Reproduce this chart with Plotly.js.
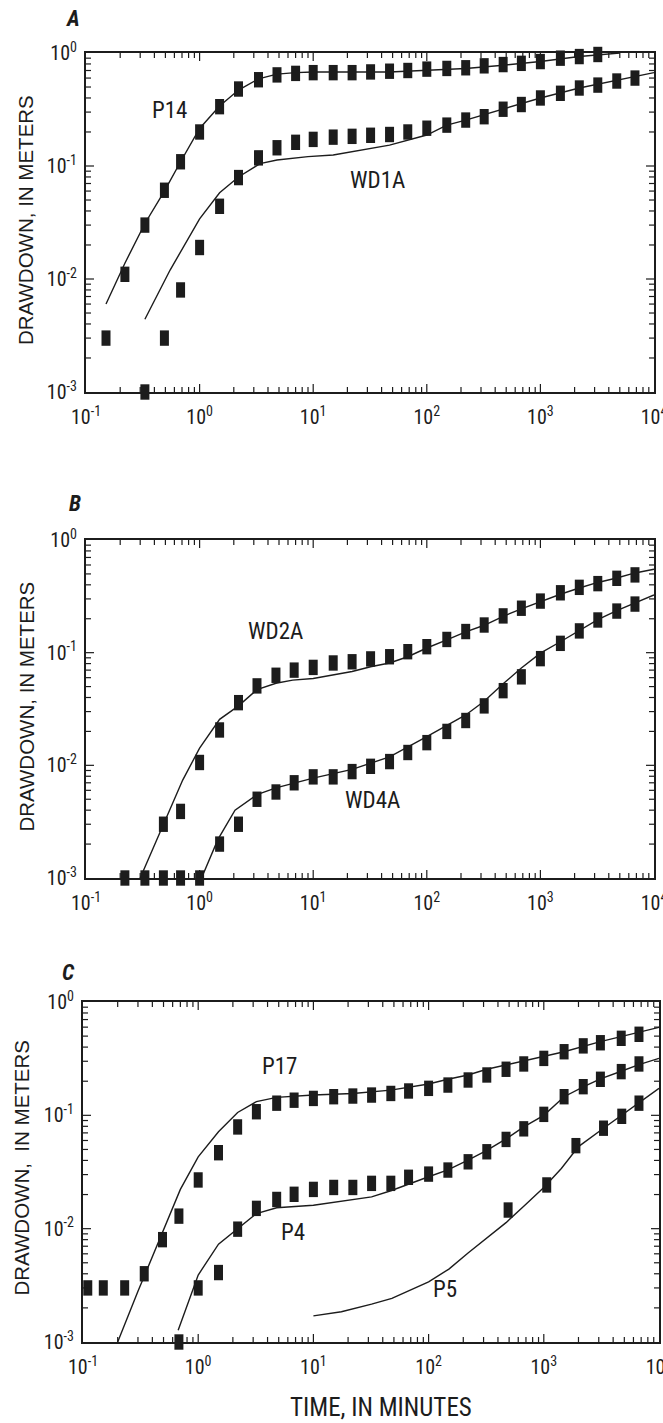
<!DOCTYPE html>
<html>
<head>
<meta charset="utf-8">
<script src="https://cdn.plot.ly/plotly-3.0.1.min.js"></script>
<style>html,body{margin:0;padding:0;background:#fff;}#chart{width:663px;height:1423px;}</style>
</head>
<body>
<div id="chart"></div>
<script>
// ---------- DATA ----------
// Panel A
const a_p14_t = [0.15, 0.22, 0.33, 0.49, 0.68, 1.0, 1.5, 2.2, 3.3, 4.8, 7.0, 10, 15, 22, 32, 47, 68, 100, 150, 220, 320, 470, 680, 1000, 1500, 2200, 3200, 4700];
const a_p14_s = [0.003, 0.011, 0.030, 0.061, 0.109, 0.20, 0.335, 0.48, 0.58, 0.64, 0.66, 0.67, 0.67, 0.67, 0.68, 0.69, 0.70, 0.72, 0.73, 0.74, 0.77, 0.79, 0.81, 0.84, 0.90, 0.93, 0.97, 1.01];
const a_wd1a_t = [0.33, 0.49, 0.68, 1.0, 1.5, 2.2, 3.3, 4.8, 7.0, 10, 15, 22, 32, 47, 68, 100, 150, 220, 320, 470, 680, 1000, 1500, 2200, 3200, 4700, 6800];
const a_wd1a_s = [0.001, 0.003, 0.008, 0.019, 0.044, 0.079, 0.118, 0.145, 0.162, 0.172, 0.18, 0.183, 0.187, 0.19, 0.20, 0.216, 0.23, 0.255, 0.273, 0.318, 0.35, 0.40, 0.44, 0.49, 0.52, 0.565, 0.60];
const a_p14_fit_t = [0.15, 0.22, 0.33, 0.49, 0.68, 1.0, 1.5, 2.2, 3.3, 4.8, 7.0, 10, 47, 100, 220, 470, 1000, 2200, 5000];
const a_p14_fit_s = [0.006, 0.0138, 0.031, 0.06, 0.109, 0.215, 0.34, 0.47, 0.59, 0.65, 0.67, 0.68, 0.68, 0.70, 0.73, 0.78, 0.84, 0.93, 1.0];
const a_wd1a_fit_t = [0.33, 0.55, 1.0, 1.5, 2.2, 3.4, 4.8, 9, 15, 47, 100, 150, 220, 470, 1000, 2200, 4700, 10000];
const a_wd1a_fit_s = [0.0044, 0.012, 0.034, 0.058, 0.08, 0.105, 0.113, 0.121, 0.125, 0.153, 0.188, 0.23, 0.255, 0.32, 0.40, 0.49, 0.57, 0.67];

// Panel B
const b_wd2a_t = [0.22, 0.33, 0.48, 0.68, 1.0, 1.5, 2.2, 3.2, 4.7, 6.8, 10, 15, 22, 32, 47, 68, 100, 150, 220, 320, 470, 680, 1000, 1500, 2200, 3200, 4700, 6800];
const b_wd2a_s = [0.001, 0.001, 0.003, 0.0039, 0.0106, 0.0206, 0.036, 0.0507, 0.063, 0.070, 0.074, 0.081, 0.083, 0.088, 0.092, 0.102, 0.113, 0.131, 0.154, 0.176, 0.212, 0.248, 0.287, 0.34, 0.38, 0.41, 0.457, 0.49];
const b_wd4a_t = [0.48, 0.68, 1.0, 1.5, 2.2, 3.2, 4.7, 6.8, 10, 15, 22, 32, 47, 68, 100, 150, 220, 320, 470, 680, 1000, 1500, 2200, 3200, 4700, 6800];
const b_wd4a_s = [0.001, 0.001, 0.001, 0.0020, 0.0030, 0.0050, 0.0058, 0.0070, 0.0079, 0.0079, 0.0088, 0.0098, 0.0108, 0.013, 0.0159, 0.020, 0.025, 0.0337, 0.046, 0.061, 0.0885, 0.121, 0.156, 0.195, 0.234, 0.27];
const b_wd2a_fit_t = [0.30, 0.71, 1.0, 1.5, 2.2, 3.2, 4.7, 6.6, 10, 15, 22, 32, 47, 68, 100, 150, 220, 320, 470, 680, 1000, 1500, 2200, 3200, 4700, 6800, 10000];
const b_wd2a_fit_s = [0.001, 0.0074, 0.0142, 0.0256, 0.0337, 0.047, 0.0535, 0.057, 0.059, 0.063, 0.068, 0.075, 0.081, 0.092, 0.11, 0.13, 0.153, 0.175, 0.21, 0.245, 0.285, 0.33, 0.375, 0.42, 0.46, 0.51, 0.55];
const b_wd4a_fit_t = [1.04, 1.45, 2.05, 3.2, 4.7, 10, 22, 47, 100, 150, 220, 320, 470, 680, 1000, 1500, 2200, 3200, 4700, 6800, 10000];
const b_wd4a_fit_s = [0.001, 0.0022, 0.004, 0.0055, 0.0063, 0.0077, 0.0092, 0.0119, 0.018, 0.0224, 0.028, 0.037, 0.053, 0.073, 0.099, 0.125, 0.158, 0.196, 0.236, 0.275, 0.325];

// Panel C
const c_p17_t = [0.11, 0.15, 0.23, 0.34, 0.49, 0.68, 1.0, 1.5, 2.2, 3.2, 4.8, 6.8, 10, 15, 22, 32, 47, 67, 100, 147, 220, 320, 470, 670, 1000, 1500, 2200, 3100, 4700, 6700];
const c_p17_s = [0.003, 0.003, 0.003, 0.004, 0.008, 0.0129, 0.0269, 0.0468, 0.079, 0.1076, 0.128, 0.136, 0.141, 0.146, 0.148, 0.151, 0.156, 0.164, 0.173, 0.185, 0.205, 0.227, 0.255, 0.284, 0.318, 0.364, 0.41, 0.437, 0.478, 0.519];
const c_p4_t = [0.68, 1.0, 1.5, 2.2, 3.2, 4.8, 6.8, 10, 15, 22, 32, 47, 67, 100, 147, 220, 320, 470, 670, 1000, 1500, 2200, 3100, 4700, 6700];
const c_p4_s = [0.001, 0.003, 0.0041, 0.0099, 0.0151, 0.0181, 0.0201, 0.0222, 0.0231, 0.0231, 0.0251, 0.0251, 0.0284, 0.0303, 0.0329, 0.0389, 0.0477, 0.0613, 0.076, 0.102, 0.146, 0.179, 0.208, 0.243, 0.284];
const c_p5_t = [490, 1060, 1900, 3300, 4750, 6700];
const c_p5_s = [0.0146, 0.0243, 0.054, 0.077, 0.098, 0.128];
const c_p17_fit_t = [0.2, 0.3, 0.70, 1.0, 1.5, 2.2, 3.2, 4.8, 10, 22, 47, 100, 147, 220, 320, 470, 670, 1000, 1500, 3100, 10000];
const c_p17_fit_s = [0.001, 0.0028, 0.0222, 0.043, 0.0716, 0.106, 0.132, 0.144, 0.151, 0.156, 0.167, 0.189, 0.208, 0.227, 0.255, 0.278, 0.303, 0.334, 0.364, 0.447, 0.598];
const c_p4_fit_t = [0.67, 1.0, 1.5, 2.2, 3.2, 4.8, 10, 32, 47, 100, 147, 220, 320, 470, 670, 1000, 1500, 2200, 3100, 4700, 6700, 10000];
const c_p4_fit_s = [0.00127, 0.0039, 0.0073, 0.010, 0.0136, 0.0153, 0.0161, 0.0191, 0.0216, 0.0287, 0.033, 0.0403, 0.049, 0.062, 0.079, 0.10, 0.146, 0.178, 0.21, 0.245, 0.28, 0.318];
const c_p5_fit_t = [10, 17.5, 32, 48, 100, 150, 220, 320, 470, 670, 1000, 1420, 2000, 3300, 4750, 6700, 10000];
const c_p5_fit_s = [0.0017, 0.00185, 0.00216, 0.00243, 0.0034, 0.0044, 0.0061, 0.0082, 0.0113, 0.0158, 0.0231, 0.034, 0.053, 0.077, 0.10, 0.128, 0.173];

// Tick labels
const xTickVals = [0.1, 1, 10, 100, 1000, 10000];
const xTickText = ['10<sup>-1</sup>', '10<sup>0</sup>', '10<sup>1</sup>', '10<sup>2</sup>', '10<sup>3</sup>', '10<sup>4</sup>'];
const yTickVals = [0.001, 0.01, 0.1, 1];
const yTickText = ['10<sup>-3</sup>', '10<sup>-2</sup>', '10<sup>-1</sup>', '10<sup>0</sup>'];

// Labels
const seriesLabels = [
  {text: 'P14', t: 0.54, s: 0.31, ax: 'A'},
  {text: 'WD1A', t: 37, s: 0.075, ax: 'A'},
  {text: 'WD2A', t: 4.7, s: 0.153, ax: 'B'},
  {text: 'WD4A', t: 33, s: 0.0049, ax: 'B'},
  {text: 'P17', t: 5.1, s: 0.268, ax: 'C'},
  {text: 'P4', t: 6.6, s: 0.0092, ax: 'C'},
  {text: 'P5', t: 139, s: 0.0029, ax: 'C'}
];
const panelLetters = ['A', 'B', 'C'];
const yTitle = ['DRAWDOWN, IN METERS', 'DRAWDOWN, IN METERS', 'DRAWDOWN,  IN METERS'];
const xTitle = 'TIME, IN MINUTES';

// ---------- STYLE ----------
const W = 663, H = 1423;
const INK = '#1c1c1c';
const COND = '"Roboto Condensed", "DejaVu Sans Condensed", "Liberation Sans", sans-serif';
const REG = '"Liberation Sans", Arial, sans-serif';

function px(x) { return x / W; }
function py(y) { return 1 - y / H; }

// panel boxes in pixels: [left, right, top, bottom]
const boxes = {
  A: [86, 654, 53, 392],
  B: [86, 654, 540, 878],
  C: [83, 659, 1002, 1342]
};
const xRange = [-1, 4];
const yRange = [-3, 0];
const axKeys = {A: ['x', 'y'], B: ['x2', 'y2'], C: ['x3', 'y3']};

function minorVals(lo, hi) {
  const v = [];
  for (let k = lo; k < hi; k++) for (let m = 2; m <= 9; m++) v.push(m * Math.pow(10, k));
  return v;
}

function markers(t, s, p) {
  return {x: t, y: s, xaxis: axKeys[p][0], yaxis: axKeys[p][1], type: 'scatter', mode: 'markers',
    cliponaxis: false, hoverinfo: 'skip',
    marker: {symbol: 'line-ns', size: 11, color: INK, line: {width: 9, color: INK}}};
}
function fit(t, s, p) {
  return {x: t, y: s, xaxis: axKeys[p][0], yaxis: axKeys[p][1], type: 'scatter', mode: 'lines',
    cliponaxis: true, hoverinfo: 'skip', line: {color: INK, width: 1.4}};
}

// Inward tick marks on all four sides, drawn as a line trace through the axes' own scales.
// Tick lengths are given in pixels and converted to axis units from the panel size.
function tickTrace(p) {
  const b = boxes[p];
  const decX = (b[1] - b[0]) / (xRange[1] - xRange[0]);
  const decY = (b[3] - b[2]) / (yRange[1] - yRange[0]);
  const xs = [], ys = [];
  const xt = xTickVals.map(v => [v, 8]).concat(minorVals(-1, 4).map(v => [v, 5]));
  xt.forEach(([v, len]) => {
    const lv = Math.log10(v);
    if (lv <= xRange[0] + 1e-6 || lv >= xRange[1] - 1e-6) return;
    const d = len / decY;
    xs.push(v, v, null, v, v, null);
    ys.push(Math.pow(10, yRange[0]), Math.pow(10, yRange[0] + d), null, Math.pow(10, yRange[1]), Math.pow(10, yRange[1] - d), null);
  });
  const yt = yTickVals.map(v => [v, 8]).concat(minorVals(-3, 0).map(v => [v, 5]));
  yt.forEach(([v, len]) => {
    const lv = Math.log10(v);
    if (lv <= yRange[0] + 1e-6 || lv >= yRange[1] - 1e-6) return;
    const d = len / decX;
    xs.push(Math.pow(10, xRange[0]), Math.pow(10, xRange[0] + d), null, Math.pow(10, xRange[1]), Math.pow(10, xRange[1] - d), null);
    ys.push(v, v, null, v, v, null);
  });
  return {x: xs, y: ys, xaxis: axKeys[p][0], yaxis: axKeys[p][1], type: 'scatter', mode: 'lines',
    connectgaps: false, cliponaxis: false, hoverinfo: 'skip', line: {color: INK, width: 1.2}};
}

const traces = [
  fit(a_p14_fit_t, a_p14_fit_s, 'A'), fit(a_wd1a_fit_t, a_wd1a_fit_s, 'A'),
  markers(a_p14_t, a_p14_s, 'A'), markers(a_wd1a_t, a_wd1a_s, 'A'),
  fit(b_wd2a_fit_t, b_wd2a_fit_s, 'B'), fit(b_wd4a_fit_t, b_wd4a_fit_s, 'B'),
  markers(b_wd2a_t, b_wd2a_s, 'B'), markers(b_wd4a_t, b_wd4a_s, 'B'),
  fit(c_p17_fit_t, c_p17_fit_s, 'C'), fit(c_p4_fit_t, c_p4_fit_s, 'C'), fit(c_p5_fit_t, c_p5_fit_s, 'C'),
  markers(c_p17_t, c_p17_s, 'C'), markers(c_p4_t, c_p4_s, 'C'), markers(c_p5_t, c_p5_s, 'C'),
  tickTrace('A'), tickTrace('B'), tickTrace('C')
];

const common = {type: 'log', showline: true, linewidth: 2, linecolor: INK, mirror: true, zeroline: false,
  showgrid: false, ticks: '', fixedrange: true, ticklabeloverflow: 'allow'};

const layout = {
  width: W, height: H, margin: {l: 0, r: 0, t: 0, b: 0}, paper_bgcolor: '#fff', plot_bgcolor: '#fff',
  showlegend: false, annotations: []
};

panelLetters.forEach(p => {
  const b = boxes[p];
  const xk = axKeys[p][0], yk = axKeys[p][1];
  const xName = 'xaxis' + xk.slice(1), yName = 'yaxis' + yk.slice(1);
  layout[xName] = Object.assign({}, common, {
    domain: [px(b[0]), px(b[1])], range: xRange, anchor: yk, side: 'bottom',
    tickmode: 'array', tickvals: xTickVals, ticktext: xTickText, ticklabelstandoff: 6,
    tickfont: {family: COND, size: 20, color: INK}});
  layout[yName] = Object.assign({}, common, {
    domain: [py(b[3]), py(b[2])], range: yRange, anchor: xk, side: 'left',
    tickmode: 'array', tickvals: yTickVals, ticktext: yTickText, ticklabelstandoff: 3,
    tickfont: {family: COND, size: 20, color: INK}});
});

const annotations = layout.annotations;
seriesLabels.forEach(l => {
  annotations.push({text: l.text, x: Math.log10(l.t), y: Math.log10(l.s), xref: axKeys[l.ax][0], yref: axKeys[l.ax][1],
    showarrow: false, font: {family: COND, size: 23, color: INK}, xanchor: 'center', yanchor: 'middle'});
});
const letterPos = {A: [73, 18], B: [75, 504], C: [68, 972]};
panelLetters.forEach(p => {
  annotations.push({text: '<b><i>' + p + '</i></b>', x: px(letterPos[p][0]), y: py(letterPos[p][1]), xref: 'paper', yref: 'paper',
    showarrow: false, font: {family: COND, size: 22, color: INK}, xanchor: 'center', yanchor: 'middle'});
});
const yTitlePos = {A: [26, 220], B: [25.5, 707], C: [20.5, 1168]};
panelLetters.forEach((p, i) => {
  annotations.push({text: yTitle[i], x: px(yTitlePos[p][0]), y: py(yTitlePos[p][1]), xref: 'paper', yref: 'paper',
    textangle: -90, showarrow: false, font: {family: REG, size: 20.5, color: INK}, xanchor: 'center', yanchor: 'middle'});
});
annotations.push({text: xTitle, x: px(381.5), y: py(1407), xref: 'paper', yref: 'paper', showarrow: false,
  font: {family: COND, size: 25, color: INK}, xanchor: 'center', yanchor: 'middle'});

Plotly.newPlot('chart', traces, layout, {staticPlot: true, displayModeBar: false});
</script>
</body>
</html>
